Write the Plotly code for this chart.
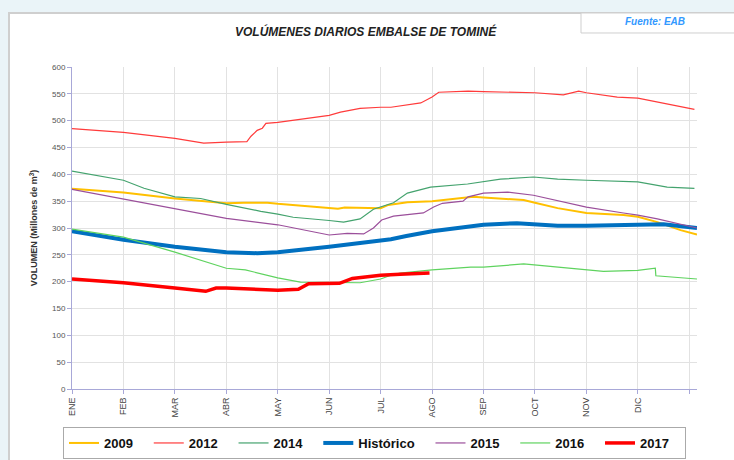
import plotly.graph_objects as go

# eje x en meses (0 = ENE ... 12 = fin de DIC)
meses = ["ENE", "FEB", "MAR", "ABR", "MAY", "JUN", "JUL", "AGO", "SEP", "OCT", "NOV", "DIC", ""]

x_2009 = [0, 1, 2, 3, 3.34, 3.8, 4, 5, 5.17, 5.3, 6, 6.15, 6.52, 7, 7.36, 7.8, 8, 8.47, 8.78, 9, 9.44, 10, 10.72, 11, 11.38, 11.83, 12.15]
v_2009 = [373, 366, 355, 346, 347, 347, 345, 338, 336, 338, 337, 343, 348, 350, 354, 358, 357, 354, 352, 347, 337, 328, 324, 321, 311, 296, 288]

x_2012 = [0, 1, 2, 2.56, 3, 3.4, 3.48, 3.6, 3.7, 3.77, 4, 5, 5.22, 5.6, 6, 6.2, 6.78, 7.0, 7.13, 7.7, 8, 9, 9.55, 9.85, 10, 10.6, 11, 11.38, 12.1]
v_2012 = [485, 478, 467, 458, 460, 461, 471, 482, 486, 495, 497, 510, 516, 523, 525, 525, 533, 544, 553, 555, 554, 552, 548, 555, 552, 544, 542, 535, 521]

x_2014 = [0, 0.43, 1, 1.4, 2, 2.5, 3, 3.67, 4, 4.3, 4.7, 5, 5.28, 5.6, 5.86, 6.25, 6.52, 6.97, 7.69, 8.33, 8.97, 9.44, 10, 10.47, 11, 11.57, 12.1]
v_2014 = [406, 399, 389, 374, 358, 355, 344, 331, 326, 320, 317, 314, 311, 317, 335, 347, 365, 376, 382, 391, 395, 391, 389, 387, 386, 376, 374]

x_hist = [0, 1, 2, 3, 3.6, 4, 5, 6, 6.2, 6.5, 7, 7.5, 8, 8.65, 9, 9.44, 10, 11, 11.5, 12.15]
v_hist = [294, 278, 265, 255, 253, 255, 265, 276, 279, 285, 294, 300, 306, 309, 307, 304, 304, 307, 307, 300]

x_2015 = [0, 1, 2, 3, 4, 4.3, 4.7, 5, 5.35, 5.67, 5.86, 6.02, 6.25, 6.5, 6.83, 7.03, 7.2, 7.6, 7.7, 8, 8.47, 8.97, 9.55, 10, 10.72, 11, 11.38, 11.77, 12.15]
v_2015 = [372, 354, 337, 318, 306, 300, 293, 287, 290, 289, 300, 315, 322, 325, 328, 339, 346, 350, 358, 365, 367, 361, 349, 339, 328, 324, 317, 309, 300]

x_2016 = [0, 1, 2, 3, 3.37, 4, 4.44, 5, 5.6, 6, 6.2, 6.38, 7, 7.75, 8, 8.78, 9, 9.55, 10, 10.33, 11, 11.24, 11.34, 11.35, 12.15]
v_2016 = [298, 283, 255, 225, 222, 207, 199, 198, 198, 205, 212, 216, 222, 227, 227, 233, 231, 225, 222, 219, 221, 224, 225, 211, 205]

x_2017 = [0, 1, 2, 2.6, 2.8, 3, 4, 4.4, 4.6, 5, 5.2, 5.45, 6, 6.38, 6.95]
v_2017 = [205, 198, 188, 182, 188, 188, 184, 186, 196, 196, 197, 206, 212, 214, 216]

series = [
    ("2009", x_2009, v_2009, "#FFC000", 2),
    ("2012", x_2012, v_2012, "#FF3B3B", 1.2),
    ("2014", x_2014, v_2014, "#44A36E", 1.2),
    ("Histórico", x_hist, v_hist, "#0070C0", 4),
    ("2015", x_2015, v_2015, "#9B4F9B", 1.2),
    ("2016", x_2016, v_2016, "#5FD35F", 1.2),
    ("2017", x_2017, v_2017, "#FF0000", 3.5),
]

fig = go.Figure()
for nombre, xs, ys, color, ancho in series:
    fig.add_trace(go.Scatter(x=xs, y=ys, mode="lines", name=nombre + "&nbsp;&nbsp;&nbsp;",
                             line=dict(color=color, width=ancho)))

fig.update_layout(
    width=734, height=460,
    margin=dict(l=72, r=37, t=67, b=71),
    paper_bgcolor="#eaf4f8",
    plot_bgcolor="white",
    font=dict(family="Arial, Liberation Sans", color="#333"),
    showlegend=True,
    legend=dict(orientation="h", xref="container", yref="container",
                x=63 / 734, y=1 - 427 / 460, xanchor="left", yanchor="top",
                bgcolor="white", bordercolor="#aaaaaa", borderwidth=1,
                font=dict(size=13, color="#111", weight="bold"),
                traceorder="normal"),
    shapes=[
        dict(type="rect", xref="paper", yref="paper", x0=-0.1008, x1=1.08, y0=-0.25, y1=1.1677,
             fillcolor="white", line=dict(color="#cfcfcf", width=2), layer="below"),
        dict(type="rect", xref="paper", yref="paper", x0=0.8144, x1=1.08, y0=1.1056, y1=1.1677,
             fillcolor="white", line=dict(color="#cfcfcf", width=1), layer="below"),
    ],
    annotations=[
        dict(text="<b><i>VOLÚMENES DIARIOS EMBALSE DE TOMINÉ</i></b>", xref="paper", yref="paper",
             x=0.4704, y=1.1087, xanchor="center", yanchor="middle", showarrow=False,
             font=dict(size=12, color="#222")),
        dict(text="<b><i>Fuente: EAB</i></b>", xref="paper", yref="paper",
             x=0.9328, y=1.1398, xanchor="center", yanchor="middle", showarrow=False,
             font=dict(size=10, color="#3399ff")),
    ],
)

fig.update_xaxes(range=[0, 12.15], tickmode="array", tickvals=list(range(13)), ticktext=meses,
                 tickangle=-90, tickfont=dict(size=9, color="#444"),
                 showgrid=True, gridcolor="#e2e2e2", gridwidth=1,
                 showline=True, linecolor="#a8a8d8", linewidth=1,
                 ticks="outside", ticklen=4, tickcolor="#a8a8d8", zeroline=False,
                 automargin=False)
fig.update_yaxes(range=[0, 600], dtick=50, tickfont=dict(size=8, color="#555"),
                 showgrid=True, gridcolor="#e2e2e2", gridwidth=1,
                 showline=True, linecolor="#a8a8d8", linewidth=1,
                 ticks="outside", ticklen=4, tickcolor="#a8a8d8", zeroline=False,
                 automargin=False,
                 title=dict(text="<b>VOLUMEN (Millones de m<sup>3</sup>)</b>",
                            font=dict(size=9, color="#333"), standoff=12))

# quitar el margen del body para que la figura quede en (0, 0)
fig.write_html("out.html", config={"displayModeBar": False},
               post_script="document.body.style.margin='0px';")
